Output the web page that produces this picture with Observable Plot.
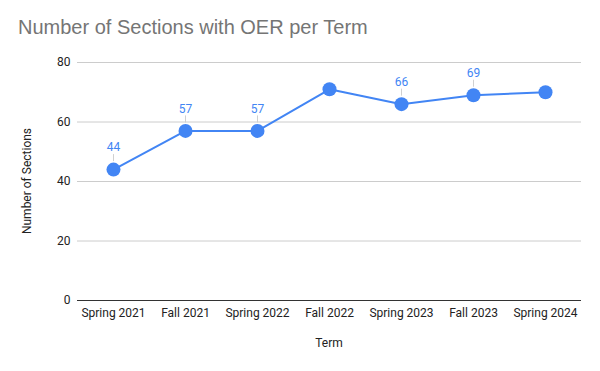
<!DOCTYPE html>
<html>
<head>
<meta charset="utf-8">
<script src="https://cdn.jsdelivr.net/npm/d3@7"></script>
<script src="https://cdn.jsdelivr.net/npm/@observablehq/plot@0.6"></script>
<style>
  html, body { margin: 0; padding: 0; background: #fff; }
  #wrap { position: relative; width: 600px; height: 371px; overflow: hidden; }
  .t { position: absolute; white-space: nowrap; }
  #title { left: 18px; top: 16px; font: 20px "Liberation Sans", Arial, sans-serif; color: #757575; }
  #ylab { left: 27px; top: 181px; font: 12px Roboto, sans-serif; color: #222; transform: translate(-50%, -50%) rotate(-90deg); }
  #xlab { left: 329px; top: 343px; font: 12px Roboto, sans-serif; color: #222; transform: translate(-50%, -50%); }
</style>
</head>
<body>
<div id="wrap">
  <div id="chart"></div>
  <div class="t" id="title">Number of Sections with OER per Term</div>
  <div class="t" id="ylab">Number of Sections</div>
  <div class="t" id="xlab">Term</div>
</div>
<script>
const terms = ["Spring 2021", "Fall 2021", "Spring 2022", "Fall 2022", "Spring 2023", "Fall 2023", "Spring 2024"];
const sections = [44, 57, 57, 71, 66, 69, 70];
const showLabel = [true, true, true, false, true, true, false];
const yTicks = [0, 20, 40, 60, 80];

const data = terms.map((t, i) => ({term: t, value: sections[i], show: showLabel[i]}));
const labeled = data.filter(d => d.show);
const blue = "#4285f4";

const chart = Plot.plot({
  width: 600,
  height: 371,
  marginLeft: 77,
  marginRight: 19,
  marginTop: 62,
  marginBottom: 71,
  style: {fontFamily: "Roboto, sans-serif", fontSize: "12px", color: "#222", background: "#fff"},
  x: {type: "point", domain: terms, padding: 0.5, label: null},
  y: {domain: [0, 80], ticks: yTicks, label: null},
  marks: [
    Plot.gridY(yTicks.filter(v => v !== 0), {stroke: "#cccccc", strokeOpacity: 1, strokeWidth: 1}),
    Plot.ruleY([0], {stroke: "#333", strokeWidth: 1}),
    Plot.axisY({ticks: yTicks, tickSize: 0, tickPadding: 7, label: null, fontSize: 12, fill: "#222"}),
    Plot.axisX({tickSize: 0, tickPadding: 8, label: null, fontSize: 12, fill: "#222"}),
    Plot.ruleX(labeled, {x: "term", y1: "value", y2: "value", insetTop: -8, insetBottom: 15, stroke: "#d0d0d0", strokeWidth: 1}),
    Plot.line(data, {x: "term", y: "value", stroke: blue, strokeWidth: 2}),
    Plot.dot(data, {x: "term", y: "value", r: 7, fill: blue, stroke: "none"}),
    Plot.text(labeled, {x: "term", y: "value", text: d => String(d.value), dy: -22, fill: blue, fontSize: 12})
  ]
});
document.getElementById("chart").appendChild(chart);
</script>
</body>
</html>
